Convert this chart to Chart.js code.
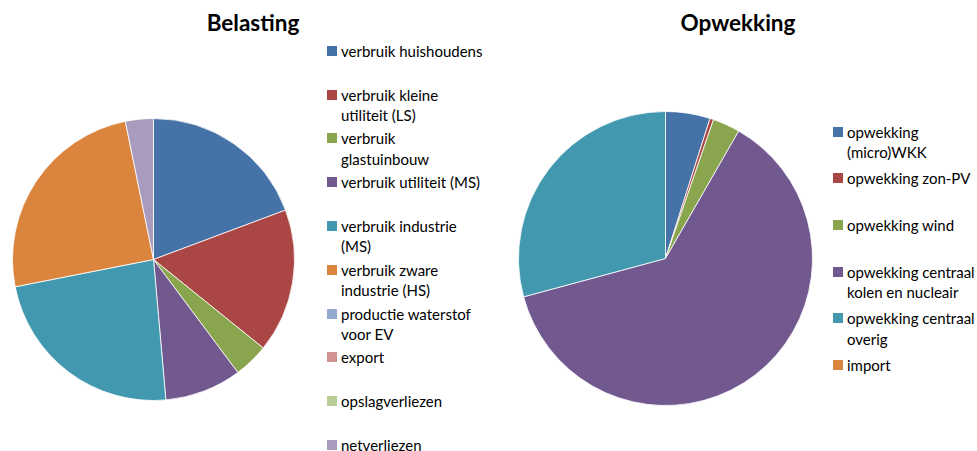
<!DOCTYPE html>
<html>
<head>
<meta charset="utf-8">
<script src="https://cdn.jsdelivr.net/npm/chart.js@4/dist/chart.umd.min.js"></script>
<style>
  html, body { margin: 0; padding: 0; background: #fff; }
  #wrap { position: relative; width: 977px; height: 451px; overflow: hidden; font-family: Lato, 'Open Sans', sans-serif; color: #000; }
  .title { position: absolute; top: 9px; font-weight: bold; font-size: 22.5px; transform: translateX(-50%); white-space: nowrap; }
  .pie { position: absolute; }
  .legend { position: absolute; font-size: 15px; line-height: 20.5px; }
  .legend .item { position: absolute; left: 0; white-space: nowrap; }
  .legend .box { position: absolute; left: 0; width: 10px; height: 10px; }
  .legend .txt { position: absolute; }
</style>
</head>
<body>
<div id="wrap">
  <div class="title" style="left:253px">Belasting</div>
  <div class="title" style="left:738px">Opwekking</div>
  <canvas id="belasting_chart" class="pie" width="283" height="283" style="left:12px;top:118px"></canvas>
  <canvas id="opwekking_chart" class="pie" width="295" height="295" style="left:518px;top:111px"></canvas>
  <div id="belasting_legend" class="legend" style="left:327px;top:0"></div>
  <div id="opwekking_legend" class="legend" style="left:833px;top:0"></div>
</div>
<script>
// belasting (load side), shares in %
const belasting_labels = [
    'verbruik huishoudens',
    ['verbruik kleine', 'utiliteit (LS)'],
    ['verbruik', 'glastuinbouw'],
    'verbruik utiliteit (MS)',
    ['verbruik industrie', '(MS)'],
    ['verbruik zware', 'industrie (HS)'],
    ['productie waterstof', 'voor EV'],
    'export',
    'opslagverliezen',
    'netverliezen',
];
const belasting_values = [19.3, 16.5, 4.0, 8.8, 23.3, 24.9, 0, 0, 0, 3.2];
const belasting_colors = [
    '#4572A7', '#AA4643', '#89A54E', '#71588F', '#4198AF',
    '#DB843D', '#93A9CF', '#D19392', '#B9CD96', '#A99BBD',
];

// opwekking (generation side), shares in %
const opwekking_labels = [
    ['opwekking', '(micro)WKK'],
    'opwekking zon-PV',
    'opwekking wind',
    ['opwekking centraal', 'kolen en nucleair'],
    ['opwekking centraal', 'overig'],
    'import',
];
const opwekking_values = [4.9, 0.4, 3.0, 62.5, 29.2, 0];
const opwekking_colors = ['#4572A7', '#AA4643', '#89A54E', '#71588F', '#4198AF', '#DB843D'];

const makePie = (canvas, labels, values, colors) => new Chart(canvas, {
    type: 'pie',
    data: {
        labels: labels,
        datasets: [{
            data: values,
            backgroundColor: colors,
            borderColor: 'rgba(255,255,255,0.8)',
            borderWidth: 1
        }]
    },
    options: {
        responsive: false,
        animation: false,
        layout: { padding: 0 },
        plugins: {
            legend: { display: false },
            title: { display: false },
            tooltip: { enabled: false }
        }
    }
});

// html legend, one fixed slot per category
const makeLegend = (el, labels, colors, firstY, step) => {
    labels.forEach((lab, i) => {
        const lines = Array.isArray(lab) ? lab : [lab];
        const cy = firstY + i * step;
        const item = document.createElement('div');
        item.className = 'item';
        item.style.top = (cy - 10.25) + 'px';
        const box = document.createElement('div');
        box.className = 'box';
        box.style.top = '5px';
        box.style.background = colors[i];
        const txt = document.createElement('div');
        txt.className = 'txt';
        txt.style.left = '14px';
        txt.innerHTML = lines.join('<br>');
        item.appendChild(box);
        item.appendChild(txt);
        el.appendChild(item);
    });
};

makePie(document.getElementById('belasting_chart'), belasting_labels, belasting_values, belasting_colors);
makePie(document.getElementById('opwekking_chart'), opwekking_labels, opwekking_values, opwekking_colors);
makeLegend(document.getElementById('belasting_legend'), belasting_labels, belasting_colors, 51, 43.8);
makeLegend(document.getElementById('opwekking_legend'), opwekking_labels, opwekking_colors, 132, 46.6);
</script>
</body>
</html>
